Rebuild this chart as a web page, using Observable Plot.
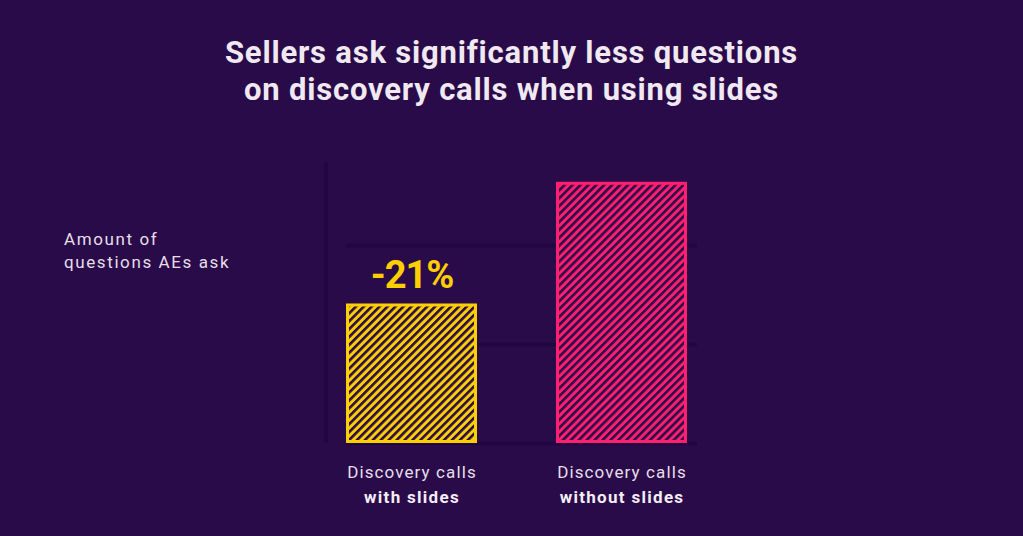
<!DOCTYPE html>
<html>
<head>
<meta charset="utf-8">
<script src="https://cdn.jsdelivr.net/npm/d3@7"></script>
<script src="https://cdn.jsdelivr.net/npm/@observablehq/plot@0.6"></script>
<style>
  html, body { margin: 0; padding: 0; background: #2a0b4a; }
  #wrap { position: relative; width: 1023px; height: 536px; overflow: hidden; background: #2a0b4a; font-family: Roboto, "Noto Sans", sans-serif; }
  #title { box-sizing: border-box; height: 130px; padding-top: 34px; text-align: center; color: #f0e9f1; font-weight: 700; font-size: 31px; line-height: 37px; letter-spacing: 0.8px; }
  #ylabel { position: absolute; left: 64px; top: 228px; color: #e6dfe9; font-size: 17px; line-height: 23px; letter-spacing: 1.6px; }
  #chart svg { display: block; }
</style>
</head>
<body>
<div id="wrap">
  <div id="title">Sellers ask significantly less questions<br>on discovery calls when using slides</div>
  <div id="ylabel">Amount of<br>questions AEs ask</div>
  <div id="chart"></div>
</div>
<script>
// ---- data ----
const categories = ["with slides", "without slides"];
const values = [1.41, 2.64];            // relative amount of questions (grid units)
const labelLine1 = ["Discovery calls", "Discovery calls"];
const labelLine2 = ["with slides", "without slides"];
const gridTicks = [0, 1, 2];
const yMax = 2.84;
const changeLabel = "-21%";

const bg = "#2a0b4a";
const gridColor = "#210640";
const colors = ["#fccf00", "#ff1f6f"];
const patternIds = ["hatch-yellow", "hatch-pink"];

const data = categories.map((c, i) => ({category: c, value: values[i], l1: labelLine1[i], l2: labelLine2[i]}));

const W = 1023, H = 406;
const marginLeft = 326, marginRight = 316, marginTop = 32, marginBottom = 93;
const frameW = W - marginLeft - marginRight;

const barMarks = data.map((d, i) => Plot.barY([d], {
  x: "category", y: "value",
  fill: `url(#${patternIds[i]})`,
  stroke: colors[i], strokeWidth: 3, inset: 1.5
}));

const chart = Plot.plot({
  width: W, height: H,
  marginLeft, marginRight, marginTop, marginBottom,
  style: {background: "transparent", fontFamily: "Roboto, sans-serif", color: "#e6dfe9"},
  x: {domain: categories, axis: null, paddingInner: 0.376, paddingOuter: 0.095},
  y: {domain: [0, yMax], axis: null},
  marks: [
    // vertical axis line at left edge
    Plot.rect([0], {y1: 0, y2: yMax, fill: gridColor, insetLeft: -2, insetRight: frameW - 2}),
    // grid lines
    Plot.ruleY(gridTicks, {stroke: gridColor, strokeWidth: 4, insetLeft: 20, insetRight: 10}),
    ...barMarks,
    // change annotation
    Plot.text([data[0]], {x: "category", y: "value", text: () => changeLabel, fill: colors[0],
      fontSize: 38, fontWeight: 700, lineAnchor: "bottom", dy: -16}),
    // category labels
    Plot.text(data, {x: "category", frameAnchor: "bottom", text: "l1", fill: "#e6dfe9",
      fontSize: 17, lineAnchor: "bottom", dy: 34}),
    Plot.text(data, {x: "category", frameAnchor: "bottom", text: "l2", fill: "#f4eef5",
      fontSize: 17, fontWeight: 700, lineAnchor: "bottom", dy: 59})
  ]
});

// letter spacing for the text marks (annotation, label line 1, label line 2)
const spacings = ["-1px", "1.1px", "1.3px"];
d3.select(chart).selectAll('g[aria-label="text"]').each(function(_, i) {
  d3.select(this).style("letter-spacing", spacings[i]);
});

// hatch patterns
const defs = d3.select(chart).insert("defs", ":first-child");
patternIds.forEach((id, i) => {
  const p = defs.append("pattern")
    .attr("id", id)
    .attr("patternUnits", "userSpaceOnUse")
    .attr("width", 5.6).attr("height", 10)
    .attr("patternTransform", "rotate(45)");
  p.append("rect").attr("width", 5.6).attr("height", 10).attr("fill", colors[i]);
  p.append("rect").attr("width", 2.6).attr("height", 10).attr("fill", bg);
});

document.getElementById("chart").appendChild(chart);
</script>
</body>
</html>
